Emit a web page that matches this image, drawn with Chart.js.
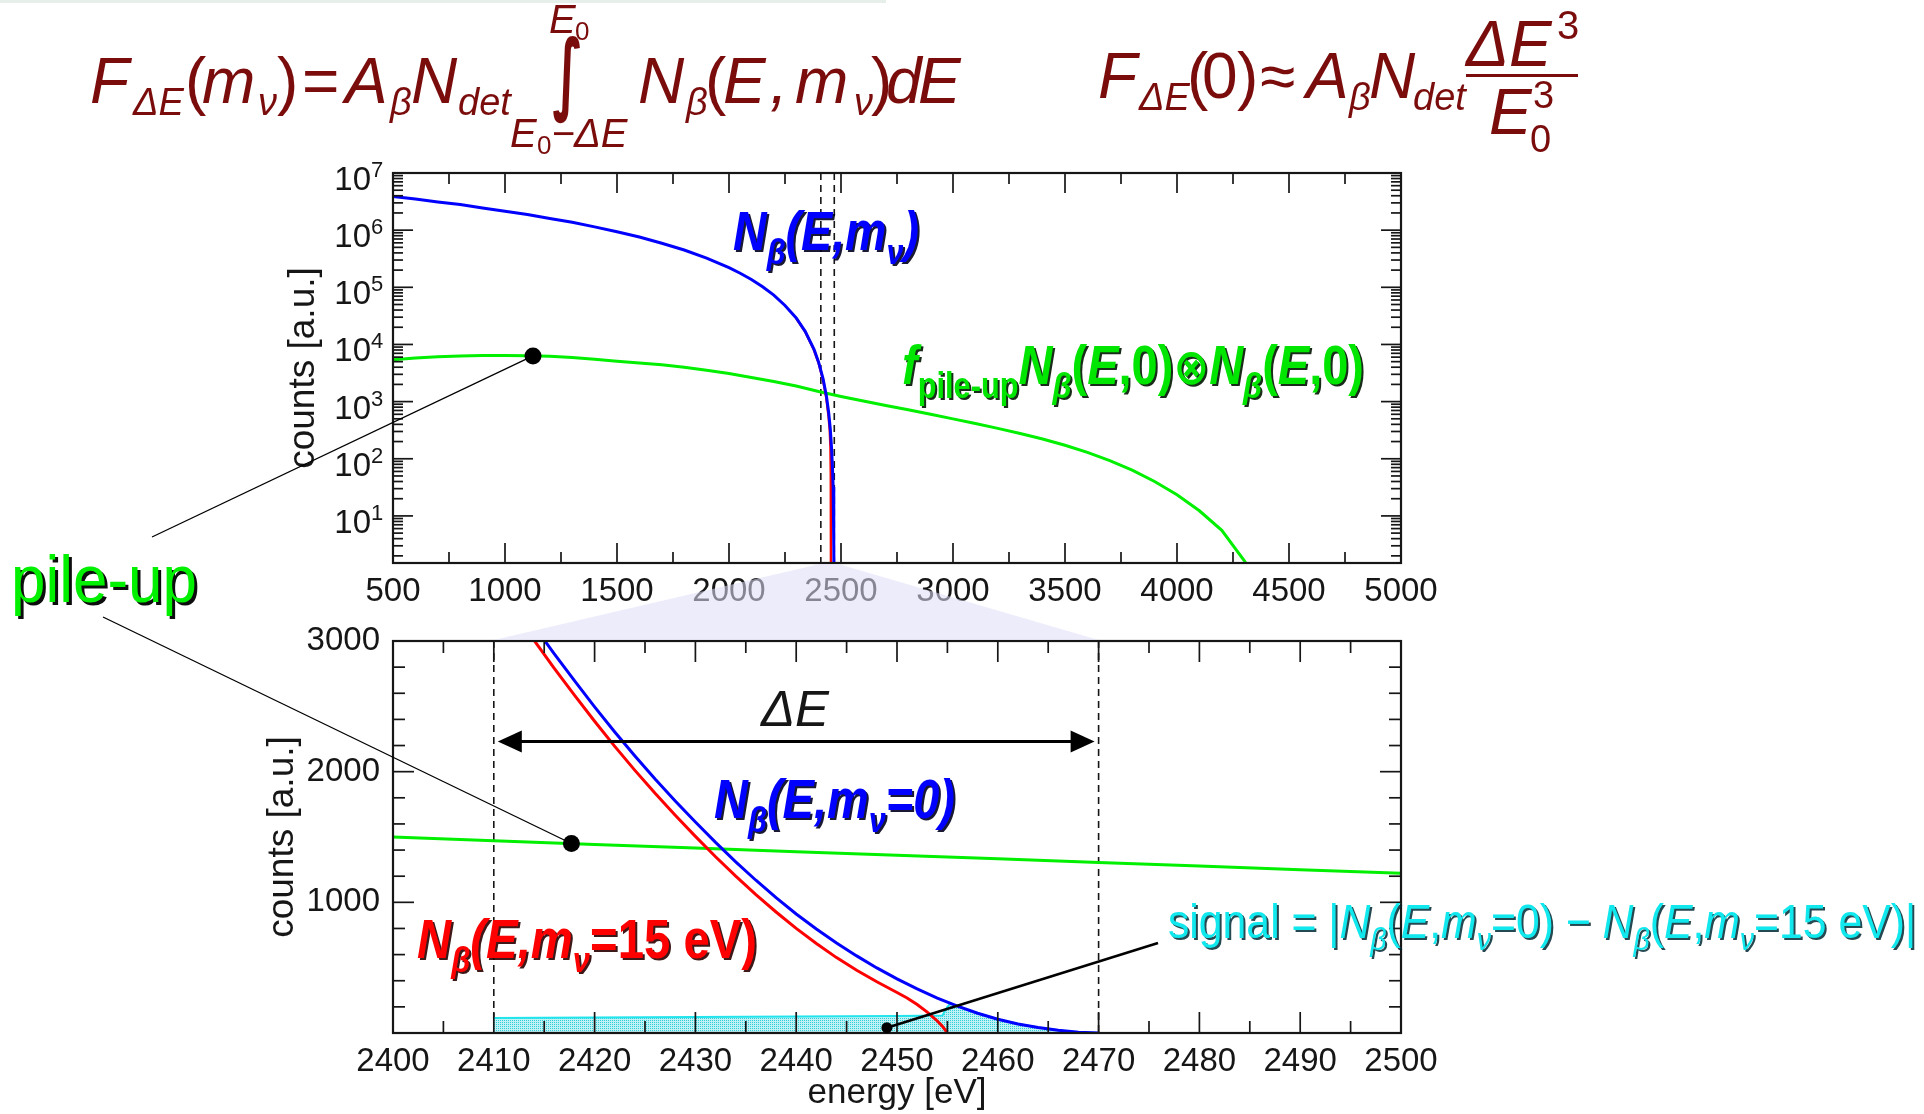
<!DOCTYPE html>
<html>
<head>
<meta charset="utf-8">
<title>Pile-up and the beta spectrum endpoint</title>
<script src="https://cdn.jsdelivr.net/npm/chart.js@4.4.1/dist/chart.umd.min.js"></script>
<style>
  html, body { margin: 0; padding: 0; background: #fff; width: 1924px; height: 1114px; overflow: hidden; }
  #wrap { position: relative; width: 1924px; height: 1114px; }
  #wrap canvas { position: absolute; left: 0; top: 0; }
</style>
</head>
<body>
<div id="wrap">
  <canvas id="overview" width="1924" height="1114"></canvas>
  <canvas id="endpoint" width="1924" height="1114"></canvas>
  <canvas id="notes" width="1924" height="1114"></canvas>
</div>
<script>
// ---------------- data ----------------
// Overview: beta spectrum N_beta(E, m_nu = 0), counts [a.u.], energy [eV]
const overviewEnergy = [500, 600, 700, 800, 900, 1000, 1100, 1200, 1300, 1400, 1500, 1600, 1700, 1800, 1900,
  2000, 2050, 2100, 2150, 2200, 2250, 2300, 2340, 2380, 2400, 2420, 2435, 2445, 2452, 2458, 2462, 2465, 2467, 2468.5, 2470];
const overviewSpectrum = [3.9e6, 3.5e6, 3.1e6, 2.8e6, 2.45e6, 2.15e6, 1.88e6, 1.6e6, 1.37e6, 1.14e6, 9.4e5, 7.6e5, 5.9e5, 4.5e5, 3.25e5,
  2.2e5, 1.76e5, 1.37e5, 1.02e5, 7.3e4, 4.8e4, 2.9e4, 1.7e4, 8100, 4900, 2500, 1240, 640, 337, 151, 69, 32, 12, 3, 0.3];
// N_beta(E, m_nu = 15 eV) near the endpoint (below that it lies under the m_nu = 0 curve)
const overviewEnergy15 = [2300, 2340, 2380, 2400, 2420, 2435, 2445, 2450, 2453, 2454.5, 2455.5];
const overviewSpectrum15 = [2.86e4, 1.68e4, 7900, 4750, 2390, 1130, 530, 310, 160, 52, 0.3];
// pile-up spectrum f_pile-up N(E,0) (x) N(E,0)
const pileupEnergy = [500, 600, 700, 800, 900, 1000, 1100, 1200, 1300, 1400, 1500, 1600, 1700, 1800, 1900, 2000,
  2100, 2200, 2300, 2400, 2500, 2600, 2700, 2800, 2900, 3000, 3100, 3200, 3300, 3400, 3500, 3600, 3700, 3800,
  3900, 4000, 4100, 4200, 4300, 4350];
const pileupCounts = [5400, 5800, 6100, 6300, 6400, 6420, 6350, 6200, 5900, 5500, 5100, 4750, 4400, 4000, 3550, 3100,
  2650, 2250, 1870, 1500, 1233, 1026, 857, 718, 600, 499, 413, 340, 276, 222, 172, 129, 93, 63,
  40, 23.4, 12.3, 5.6, 1.66, 0.8];

// Endpoint window 2400-2500 eV (linear counts)
const windowEnergy0 = [2412, 2414, 2416, 2418, 2420, 2422, 2424, 2426, 2428, 2430, 2432, 2434, 2436, 2438, 2440,
  2442, 2444, 2446, 2448, 2450, 2452, 2454, 2456, 2458, 2460, 2462, 2464, 2466, 2468, 2470];
const windowSpectrum0 = [3337, 3115, 2901, 2696, 2496, 2304, 2120, 1944, 1776, 1615, 1459, 1310, 1169, 1036, 911,
  796, 689, 590, 498, 414, 337, 267, 205, 151, 105, 69, 42, 21, 5.5, 0];
const windowEnergy15 = [2412, 2414, 2416, 2418, 2420, 2422, 2424, 2426, 2428, 2430, 2432, 2434, 2436, 2438, 2440,
  2442, 2444, 2446, 2448, 2450, 2451, 2452, 2453, 2454, 2454.5, 2455];
const windowSpectrum15 = [3227, 3005, 2791, 2586, 2386, 2194, 2010, 1834, 1666, 1505, 1349, 1200, 1059, 926, 801,
  685, 577, 480, 392, 310, 268, 218, 160, 92, 52, 0];
const windowPileEnergy = [2400, 2410, 2420, 2430, 2440, 2450, 2460, 2470, 2480, 2490, 2500];
const windowPileCounts = [1500, 1472, 1443, 1415, 1388, 1360, 1333, 1305, 1278, 1250, 1223];
// signal = |N(E,0) - N(E,15 eV)| inside the analysis window
const signalEnergy = [2410, 2420, 2430, 2440, 2450, 2454.5, 2455, 2455.3, 2456, 2458, 2460, 2462, 2464, 2466, 2468, 2470];
const signalCounts = [115, 118, 122, 127, 131, 133, 200, 226, 205, 151, 105, 69, 42, 21, 5.5, 0];

// analysis window [E0 - dE, E0]
const windowLow = 2410;
const windowHigh = 2470;
const deltaArrowLevel = 2230;

// marked points
const pileMarkOverview = { x: 1125, y: 6300 };
const pileMarkWindow = { x: 2417.7, y: 1450 };
const signalMark = { x: 2449, y: 41 };

// axis ticks
const overviewMajorX = [1000, 1500, 2000, 2500, 3000, 3500, 4000, 4500];
const overviewMinorX = [750, 1250, 1750, 2250, 2750, 3250, 3750, 4250, 4750];
const overviewDecades = [1, 2, 3, 4, 5, 6, 7];
const windowMajorX = [2410, 2420, 2430, 2440, 2450, 2460, 2470, 2480, 2490];
const windowMinorX = [2405, 2415, 2425, 2435, 2445, 2455, 2465, 2475, 2485, 2495];
const windowMajorY = [1000, 2000];
const windowMinorY = [200, 400, 600, 800, 1200, 1400, 1600, 1800, 2200, 2400, 2600, 2800];

// ---------------- styling ----------------
const FAMILY = '"Liberation Sans", Arial, Helvetica, "DejaVu Sans", sans-serif';
const ff = (style, px) => `${style} ${px}px ${FAMILY}`;
const BLUE = '#0000ff', RED = '#ff0000', GREEN = '#00f000', CYAN = '#22e4ec';
const INK = '#161616';

function pairs(xs, ys) { return xs.map((x, i) => ({ x, y: ys[i] })); }

function stipple() {
  const c = document.createElement('canvas');
  c.width = 4; c.height = 4;
  const g = c.getContext('2d');
  g.fillStyle = '#c0f2f5'; g.fillRect(0, 0, 4, 4);
  g.fillStyle = '#2fcdd8';
  g.fillRect(0, 0, 1, 1); g.fillRect(2, 2, 1, 1); g.fillRect(2, 0, 1, 1); g.fillRect(0, 2, 1, 1);
  return g.createPattern(c, 'repeat');
}

// frame, inward ticks on all four sides, dashed window markers and axis titles
function decor(o) {
  return {
    id: 'decor',
    beforeDatasetsDraw(chart) {
      const { ctx, chartArea: a, scales: { x } } = chart;
      ctx.save();
      ctx.strokeStyle = INK; ctx.lineWidth = 1.6; ctx.setLineDash([7, 5]);
      for (const v of [windowLow, windowHigh]) {
        const px = x.getPixelForValue(v);
        ctx.beginPath(); ctx.moveTo(px, a.top); ctx.lineTo(px, a.bottom); ctx.stroke();
      }
      ctx.restore();
    },
    afterDatasetsDraw(chart) {
      const { ctx, chartArea: a, scales: { x, y } } = chart;
      ctx.save();
      ctx.strokeStyle = INK; ctx.lineWidth = 1.7;
      const seg = (x0, y0, x1, y1) => { ctx.beginPath(); ctx.moveTo(x0, y0); ctx.lineTo(x1, y1); ctx.stroke(); };
      for (const [list, len] of o.xTicks) {
        for (const v of list) {
          const px = x.getPixelForValue(v);
          seg(px, a.bottom, px, a.bottom - len); seg(px, a.top, px, a.top + len);
        }
      }
      for (const [list, len] of o.yTicks) {
        for (const v of list) {
          const py = y.getPixelForValue(v);
          seg(a.left, py, a.left + len, py); seg(a.right, py, a.right - len, py);
        }
      }
      ctx.lineWidth = 2.2;
      ctx.strokeRect(a.left, a.top, a.right - a.left, a.bottom - a.top);

      ctx.fillStyle = INK;
      if (o.logLabels) {
        for (const e of o.logLabels) {
          const py = y.getPixelForValue(Math.pow(10, e));
          ctx.textAlign = 'right'; ctx.textBaseline = 'alphabetic';
          ctx.font = ff('normal', 33);
          ctx.fillText('10', a.left - 22, py + 17);
          ctx.textAlign = 'left';
          ctx.font = ff('normal', 22);
          ctx.fillText(String(e), a.left - 22, py + 4);
        }
      }
      // y title
      ctx.save();
      ctx.translate(o.yTitleX, (a.top + a.bottom) / 2);
      ctx.rotate(-Math.PI / 2);
      ctx.textAlign = 'center'; ctx.textBaseline = 'middle';
      ctx.font = ff('normal', 37);
      ctx.fillText('counts [a.u.]', 0, 0);
      ctx.restore();
      if (o.xTitle) {
        ctx.textAlign = 'center'; ctx.textBaseline = 'alphabetic';
        ctx.font = ff('normal', 35);
        ctx.fillText(o.xTitle, (a.left + a.right) / 2, o.xTitleY);
      }
      ctx.restore();
    }
  };
}

const tickFont = { family: FAMILY, size: 33 };
const plain = v => String(v);

// ---------------- overview panel (log scale) ----------------
const overview = new Chart(document.getElementById('overview'), {
  type: 'line',
  data: {
    datasets: [
      { label: 'N_beta(E, m_nu)', data: pairs(overviewEnergy, overviewSpectrum), borderColor: BLUE, borderWidth: 3, pointRadius: 0, tension: 0, order: 0 },
      { label: 'N_beta(E, 15 eV)', data: pairs(overviewEnergy15, overviewSpectrum15), borderColor: RED, borderWidth: 2.5, pointRadius: 0, tension: 0, order: 1 },
      { label: 'pile-up', data: pairs(pileupEnergy, pileupCounts), borderColor: GREEN, borderWidth: 3, pointRadius: 0, tension: 0, order: 2 }
    ]
  },
  options: {
    responsive: false, animation: false, events: [],
    layout: { padding: { left: 273, top: 173, right: 523, bottom: 491 } },
    plugins: { legend: { display: false }, tooltip: { enabled: false } },
    scales: {
      x: {
        type: 'linear', min: 500, max: 5000,
        grid: { display: false }, border: { display: false },
        ticks: { stepSize: 500, autoSkip: false, maxRotation: 0, padding: 1, color: INK, font: tickFont, callback: plain },
        afterFit: s => { s.height = 60; }
      },
      y: {
        type: 'logarithmic', min: 1.5, max: 1e7,
        grid: { display: false }, border: { display: false },
        ticks: { display: false },
        afterFit: s => { s.width = 120; }
      }
    }
  },
  plugins: [decor({
    xTicks: [[overviewMajorX, 20], [overviewMinorX, 11]],
    yTicks: [
      [overviewDecades.map(e => Math.pow(10, e)), 20],
      [[0, 1, 2, 3, 4, 5, 6].flatMap(e => [2, 3, 4, 5, 6, 7, 8, 9].map(k => k * Math.pow(10, e))).filter(v => v >= 1.5 && v <= 1e7), 10]
    ],
    logLabels: overviewDecades,
    yTitleX: 304
  })]
});

// ---------------- endpoint window (linear scale) ----------------
const endpoint = new Chart(document.getElementById('endpoint'), {
  type: 'line',
  data: {
    datasets: [
      { label: 'N_beta(E, m_nu=0)', data: pairs(windowEnergy0, windowSpectrum0), borderColor: BLUE, borderWidth: 3, pointRadius: 0, tension: 0, order: 0 },
      { label: 'N_beta(E, m_nu=15 eV)', data: pairs(windowEnergy15, windowSpectrum15), borderColor: RED, borderWidth: 3, pointRadius: 0, tension: 0, order: 1 },
      { label: 'pile-up', data: pairs(windowPileEnergy, windowPileCounts), borderColor: GREEN, borderWidth: 3, pointRadius: 0, tension: 0, order: 2 },
      { label: 'signal', data: pairs(signalEnergy, signalCounts), borderColor: CYAN, borderWidth: 2, backgroundColor: stipple(), fill: 'origin', pointRadius: 0, tension: 0, order: 3 }
    ]
  },
  options: {
    responsive: false, animation: false, events: [],
    layout: { padding: { left: 273, top: 641, right: 523, bottom: 21 } },
    plugins: { legend: { display: false }, tooltip: { enabled: false } },
    scales: {
      x: {
        type: 'linear', min: 2400, max: 2500,
        grid: { display: false }, border: { display: false },
        ticks: { stepSize: 10, autoSkip: false, maxRotation: 0, padding: 1, color: INK, font: tickFont, callback: plain },
        afterFit: s => { s.height = 60; }
      },
      y: {
        type: 'linear', min: 0, max: 3000,
        grid: { display: false }, border: { display: false },
        ticks: { stepSize: 1000, padding: 5, color: INK, font: tickFont, callback: v => (v === 0 ? '' : String(v)) },
        afterFit: s => { s.width = 120; }
      }
    }
  },
  plugins: [decor({
    xTicks: [[windowMajorX, 21], [windowMinorX, 12]],
    yTicks: [[windowMajorY, 21], [windowMinorY, 12]],
    yTitleX: 283,
    xTitle: 'energy [eV]',
    xTitleY: 1103
  })]
});

// ---------------- annotations ----------------
const ctx = document.getElementById('notes').getContext('2d');
const ox = overview.scales.x, oy = overview.scales.y, oa = overview.chartArea;
const ex = endpoint.scales.x, ey = endpoint.scales.y, ea = endpoint.chartArea;

// faint rule along the top edge
ctx.fillStyle = '#e6efea';
ctx.fillRect(0, 0, 886, 3);

// magnifier wedge linking the window in both panels
ctx.fillStyle = 'rgba(222, 222, 247, 0.56)';
ctx.beginPath();
ctx.moveTo(ox.getPixelForValue(windowLow) - 1, oa.bottom + 1);
ctx.lineTo(ox.getPixelForValue(windowHigh) + 4, oa.bottom + 1);
ctx.lineTo(ex.getPixelForValue(windowHigh), ea.top - 1);
ctx.lineTo(ex.getPixelForValue(windowLow), ea.top - 1);
ctx.closePath();
ctx.fill();

function dot(px, py, r) {
  ctx.beginPath(); ctx.arc(px, py, r, 0, Math.PI * 2); ctx.fill();
}
function line(x0, y0, x1, y1, w) {
  ctx.lineWidth = w; ctx.beginPath(); ctx.moveTo(x0, y0); ctx.lineTo(x1, y1); ctx.stroke();
}

// pile-up pointers
ctx.strokeStyle = '#000'; ctx.fillStyle = '#000';
const pTop = [ox.getPixelForValue(pileMarkOverview.x), oy.getPixelForValue(pileMarkOverview.y)];
const pBot = [ex.getPixelForValue(pileMarkWindow.x), ey.getPixelForValue(pileMarkWindow.y)];
line(152, 537, pTop[0], pTop[1], 1.3);
line(103, 617, pBot[0], pBot[1], 1.3);
dot(pTop[0], pTop[1], 8.5);
dot(pBot[0], pBot[1], 8.5);

// signal pointer
const pSig = [ex.getPixelForValue(signalMark.x), ey.getPixelForValue(signalMark.y)];
line(1158, 943, pSig[0], pSig[1], 2.6);
dot(pSig[0], pSig[1], 5.5);

// delta-E double arrow across the window
{
  const ay = ey.getPixelForValue(deltaArrowLevel);
  const x0 = ex.getPixelForValue(windowLow) + 4, x1 = ex.getPixelForValue(windowHigh) - 4;
  const hl = 24, hw = 11;
  line(x0 + hl - 2, ay, x1 - hl + 2, ay, 3);
  ctx.beginPath(); ctx.moveTo(x0, ay); ctx.lineTo(x0 + hl, ay - hw); ctx.lineTo(x0 + hl, ay + hw); ctx.closePath(); ctx.fill();
  ctx.beginPath(); ctx.moveTo(x1, ay); ctx.lineTo(x1 - hl, ay - hw); ctx.lineTo(x1 - hl, ay + hw); ctx.closePath(); ctx.fill();
}

// text run with optional horizontal fit and drop shadow
function run(x, y, parts, o) {
  ctx.save();
  ctx.textAlign = 'left'; ctx.textBaseline = 'alphabetic';
  let w = 0;
  for (const p of parts) { ctx.font = p.f; w += ctx.measureText(p.t).width; }
  const sx = o.width ? o.width / w : 1;
  ctx.translate(x, y); ctx.scale(sx, 1);
  ctx.fillStyle = o.color;
  if (o.shadow) {
    ctx.shadowColor = o.shadow; ctx.shadowOffsetX = o.off || 2; ctx.shadowOffsetY = o.off || 2; ctx.shadowBlur = 0.5;
  }
  let cx = 0;
  for (const p of parts) { ctx.font = p.f; ctx.fillText(p.t, cx, p.dy || 0); cx += ctx.measureText(p.t).width; }
  ctx.restore();
}
const BI = px => ff('italic bold', px), B = px => ff('bold', px), I = px => ff('italic', px), R = px => ff('normal', px);

run(733, 250, [
  { t: 'N', f: BI(55) }, { t: 'β', f: BI(36), dy: 14 }, { t: '(E,m', f: BI(55) }, { t: 'ν', f: BI(36), dy: 14 }, { t: ')', f: BI(55) }
], { width: 186, color: BLUE, shadow: 'rgba(0,0,30,0.9)' });

run(902, 384, [
  { t: 'f', f: BI(55) }, { t: 'pile-up', f: B(36), dy: 14 }, { t: 'N', f: BI(55) }, { t: 'β', f: BI(36), dy: 14 },
  { t: '(', f: B(55) }, { t: 'E', f: BI(55) }, { t: ',0)', f: B(55) }, { t: '⊗', f: B(50) },
  { t: 'N', f: BI(55) }, { t: 'β', f: BI(36), dy: 14 }, { t: '(', f: B(55) }, { t: 'E', f: BI(55) }, { t: ',0)', f: B(55) }
], { width: 462, color: '#00e600', shadow: 'rgba(0,20,0,0.9)' });

run(714, 818, [
  { t: 'N', f: BI(55) }, { t: 'β', f: BI(36), dy: 14 }, { t: '(E,m', f: BI(55) }, { t: 'ν', f: BI(36), dy: 14 }, { t: '=0)', f: BI(55) }
], { width: 241, color: BLUE, shadow: 'rgba(0,0,30,0.9)' });

run(417, 958, [
  { t: 'N', f: BI(55) }, { t: 'β', f: BI(36), dy: 14 }, { t: '(E,m', f: BI(55) }, { t: 'ν', f: BI(36), dy: 14 }, { t: '=15 eV)', f: B(55) }
], { width: 340, color: RED, shadow: 'rgba(40,0,0,0.9)' });

run(761, 726, [{ t: 'ΔE', f: I(50) }], { width: 68, color: INK });

run(1168, 938, [
  { t: 'signal = |', f: R(48) }, { t: 'N', f: I(48) }, { t: 'β', f: I(32), dy: 12 }, { t: '(', f: R(48) }, { t: 'E', f: I(48) },
  { t: ',', f: R(48) }, { t: 'm', f: I(48) }, { t: 'ν', f: I(32), dy: 12 }, { t: '=0) − ', f: R(48) },
  { t: 'N', f: I(48) }, { t: 'β', f: I(32), dy: 12 }, { t: '(', f: R(48) }, { t: 'E', f: I(48) },
  { t: ',', f: R(48) }, { t: 'm', f: I(48) }, { t: 'ν', f: I(32), dy: 12 }, { t: '=15 eV)|', f: R(48) }
], { width: 748, color: '#10e8ee', shadow: 'rgba(0,40,50,0.85)' });

run(11, 602, [{ t: 'pile-up', f: R(66) }], { width: 186, color: '#00f000', shadow: 'rgba(0,0,0,0.95)', off: 3 });

// formulas
const MAROON = '#7b0c0c';
function piece(t, font, x, y) { ctx.font = font; ctx.fillText(t, x, y); }
ctx.save();
ctx.fillStyle = MAROON; ctx.textAlign = 'left'; ctx.textBaseline = 'alphabetic';
// F_dE(m_nu) = A_beta N_det  integral_{E0-dE}^{E0} N_beta(E,m_nu) dE
piece('F', I(64), 90, 103);
piece('ΔE', I(38), 133, 115);
piece('(', R(64), 185, 103);
piece('m', I(64), 202, 103);
piece('ν', I(38), 258, 115);
piece(')', R(64), 277, 103);
piece('=', R(64), 302, 103);
piece('A', I(64), 345, 103);
piece('β', I(38), 390, 115);
piece('N', I(64), 411, 103);
piece('det', I(38), 458, 115);
{
  // integral sign fitted to its box
  ctx.save();
  ctx.font = 'bold 100px "DejaVu Sans", sans-serif';
  const m = ctx.measureText('∫');
  const gh = m.actualBoundingBoxAscent + m.actualBoundingBoxDescent;
  const gw = m.actualBoundingBoxLeft + m.actualBoundingBoxRight;
  const bx0 = 553, bx1 = 580, by0 = 35, by1 = 123;
  ctx.translate(bx0, by0);
  ctx.scale((bx1 - bx0) / gw, (by1 - by0) / gh);
  ctx.fillText('∫', m.actualBoundingBoxLeft, m.actualBoundingBoxAscent);
  ctx.restore();
}
piece('E', I(40), 549, 33);
piece('0', R(26), 575, 40);
piece('E', I(40), 510, 147);
piece('0', R(26), 537, 154);
piece('−', R(40), 552, 147);
piece('ΔE', I(40), 574, 147);
piece('N', I(64), 638, 103);
piece('β', I(38), 686, 115);
piece('(', R(64), 705, 103);
piece('E', I(64), 723, 103);
piece(',', I(64), 770, 103);
piece('m', I(64), 795, 103);
piece('ν', I(38), 854, 115);
piece(')', R(64), 871, 103);
piece('d', I(64), 886, 103);
piece('E', I(64), 918, 103);

// F_dE(0) ~ A_beta N_det dE^3 / E0^3
piece('F', I(64), 1098, 98);
piece('ΔE', I(38), 1139, 110);
piece('(', R(64), 1187, 98);
piece('0', R(64), 1202, 98);
piece(')', R(64), 1237, 98);
piece('≈', R(64), 1260, 98);
piece('A', I(64), 1306, 98);
piece('β', I(38), 1349, 110);
piece('N', I(64), 1369, 98);
piece('det', I(38), 1413, 110);
ctx.fillRect(1466, 74, 112, 3);
piece('ΔE', I(64), 1466, 66);
piece('3', R(40), 1557, 39);
piece('E', I(64), 1489, 134);
piece('3', R(38), 1533, 108);
piece('0', R(38), 1530, 152);
ctx.restore();
</script>
</body>
</html>
